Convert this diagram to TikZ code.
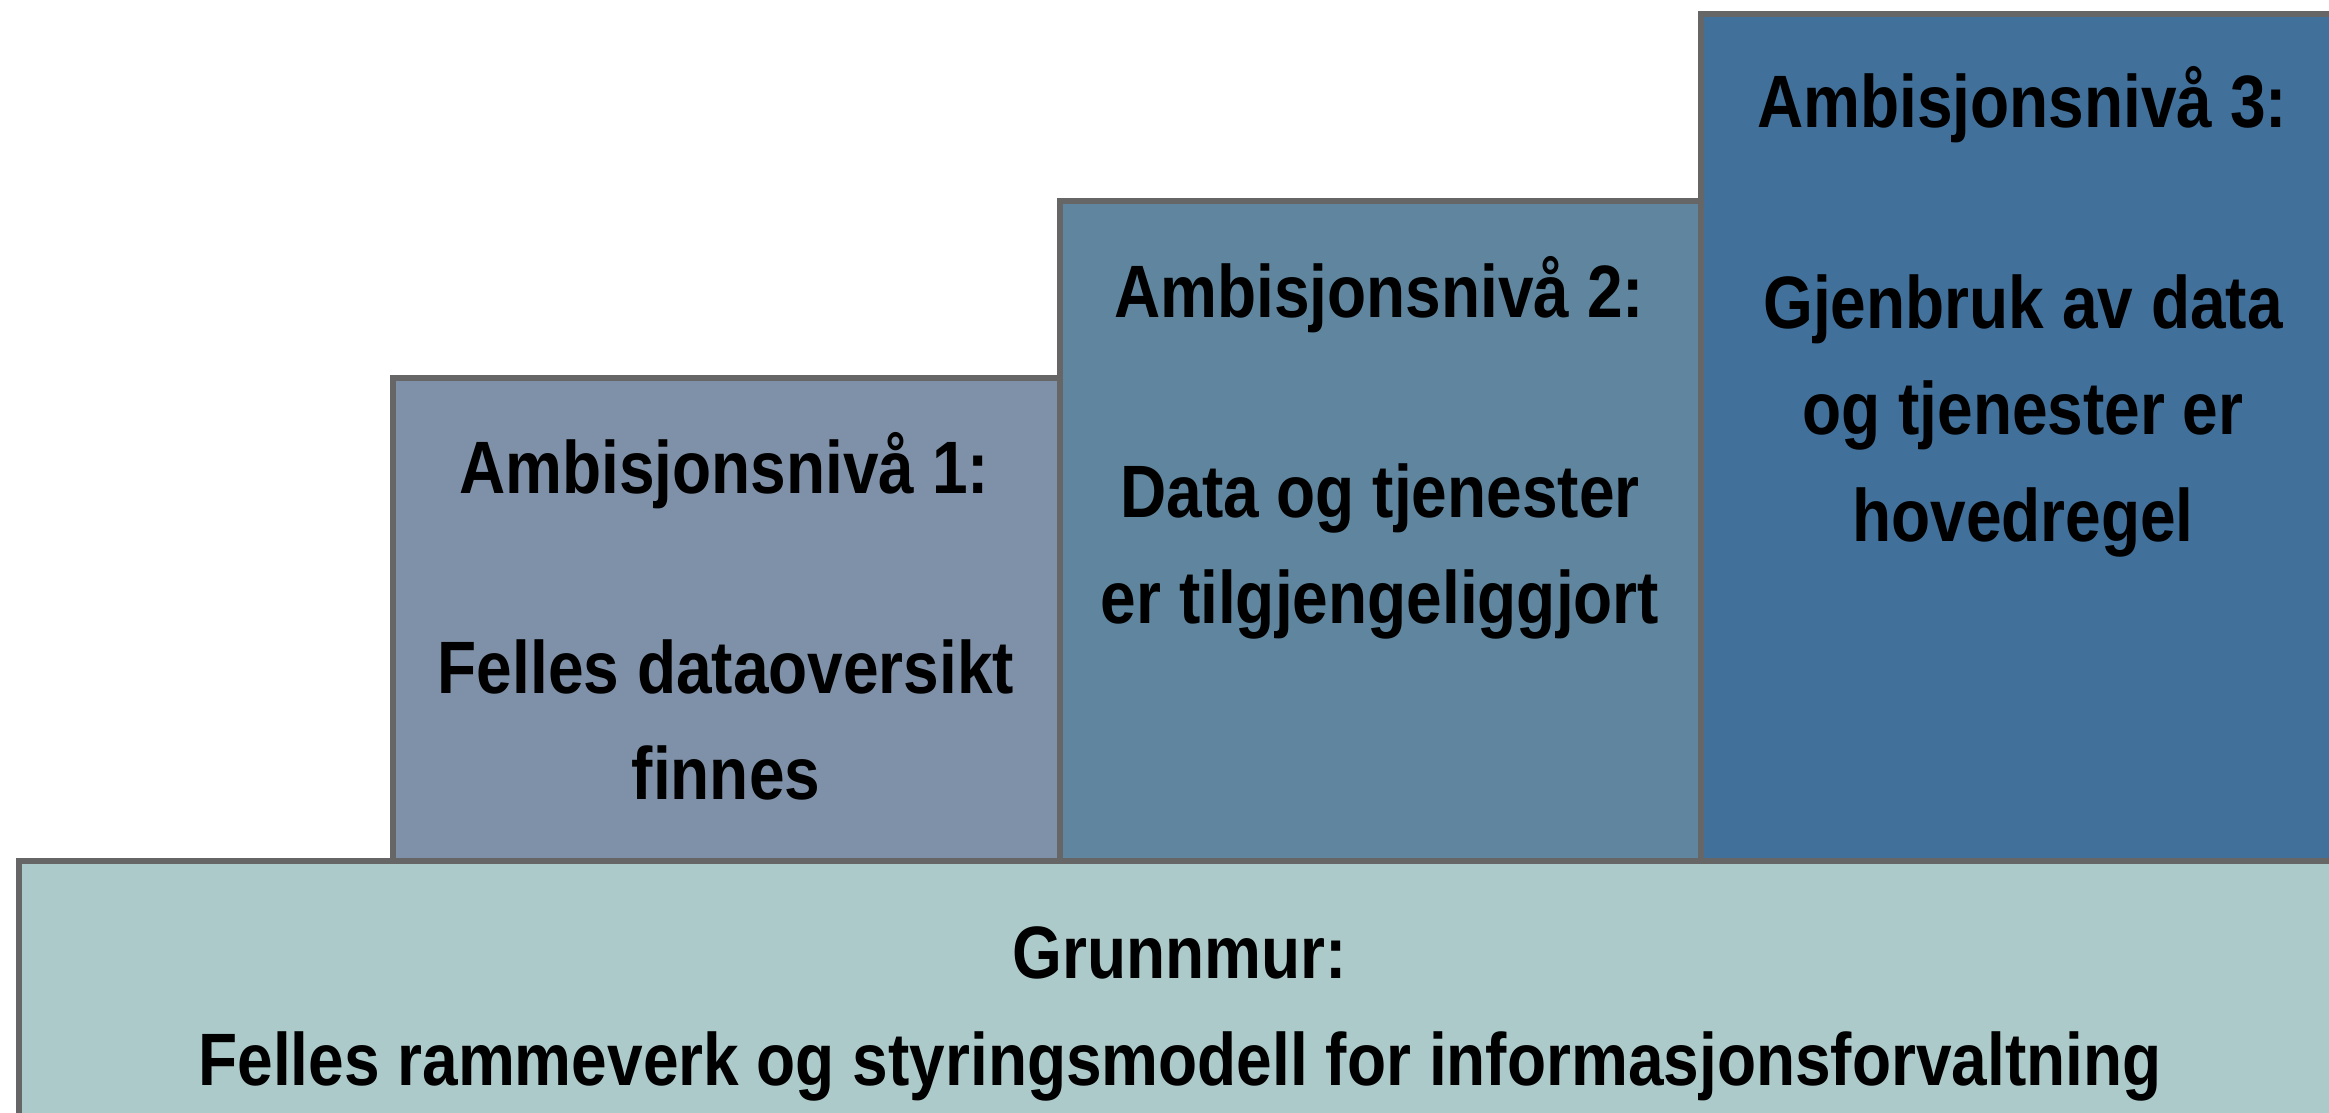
\documentclass[tikz,border=0pt]{standalone}
\usepackage{fontspec}
\setmainfont{Liberation Sans}
\usepackage{graphicx}
\definecolor{borderc}{HTML}{666666}
\definecolor{basec}{HTML}{ADCACB}
\definecolor{levelA}{HTML}{7F91A8}
\definecolor{levelB}{HTML}{5F869E}
\definecolor{levelC}{HTML}{41709A}
\newcommand{\stretched}[1]{\scalebox{1}[1.16]{\begin{tabular}[t]{@{}c@{}}#1\end{tabular}}}
\begin{document}
\begin{tikzpicture}[x=1pt,y=-1pt,
  stepbox/.style={draw=borderc, line width=6pt, rectangle, anchor=north west, inner sep=0pt, outer sep=0pt},
  lbl/.style={anchor=base, inner sep=0pt, outer sep=0pt, text=black,
    font=\fontsize{64}{92}\selectfont\bfseries}]
\useasboundingbox (0,0) rectangle (2329,1113);
\clip (0,0) rectangle (2329,1113);
\fill[white] (0,0) rectangle (2329,1113);
% level boxes
\node[stepbox, fill=levelA, minimum width=667pt, minimum height=500pt] (lvl1) at (393,378) {};
\node[stepbox, fill=levelB, minimum width=641pt, minimum height=680pt] (lvl2) at (1060,201) {};
\node[stepbox, fill=levelC, minimum width=680pt, minimum height=870pt] (lvl3) at (1701,14) {};
% foundation
\node[stepbox, fill=basec, minimum width=2360pt, minimum height=300pt] (base) at (19,861) {};
% texts
\node[lbl] (t1) at (724,493) {\stretched{Ambisjonsnivå 1:}};
\node[lbl] (b1) at (726,693) {\stretched{Felles dataoversikt\\finnes}};
\node[lbl] (t2) at (1379,317) {\stretched{Ambisjonsnivå 2:}};
\node[lbl] (b2) at (1380,517) {\stretched{Data og tjenester\\er tilgjengeliggjort}};
\node[lbl] (t3) at (2022,128) {\stretched{Ambisjonsnivå 3:}};
\node[lbl] (b3) at (2023,328) {\stretched{Gjenbruk av data\\og tjenester er\\hovedregel}};
\node[lbl] (g1) at (1180,978) {\stretched{Grunnmur:}};
\node[lbl] (g2) at (1180,1085) {\stretched{Felles rammeverk og styringsmodell for informasjonsforvaltning}};
\end{tikzpicture}
\end{document}
